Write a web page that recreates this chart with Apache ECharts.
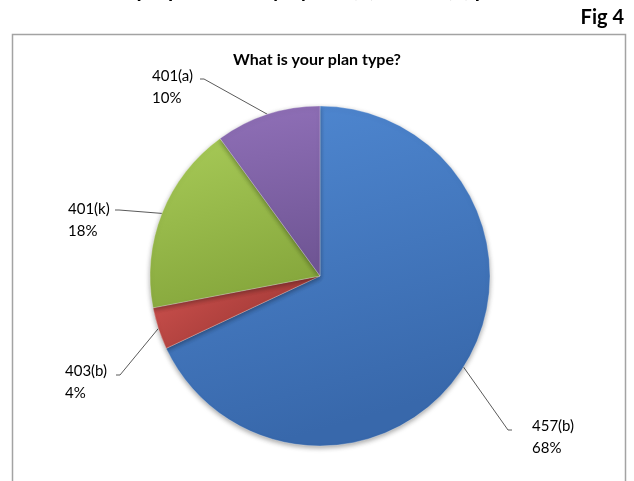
<!DOCTYPE html>
<html>
<head>
<meta charset="utf-8">
<script src="https://cdn.jsdelivr.net/npm/echarts@6/dist/echarts.min.js"></script>
<style>
  html, body { margin: 0; padding: 0; background: #fff; }
  #chart { width: 634px; height: 481px; }
</style>
</head>
<body>
<div id="chart"></div>
<script>
// Plan types and their share of responses (percent)
const planTypes = ['457(b)', '403(b)', '401(k)', '401(a)'];
const planShares = [68, 4, 18, 10];

// Slice colours: [top, bottom] of each slice's shading
const sliceShades = [
  ['#5089d3', '#3868ab'],
  ['#d0534f', '#ac3f3c'],
  ['#a8cb58', '#87a83d'],
  ['#9070b8', '#6f5594']
];

// Label placement: top-left of label block and the elbow/end of its leader line
const labelSpots = [
  { x: 532, y: 415, elbow: [508, 430], end: [512, 430] },
  { x: 65,  y: 360, elbow: [120, 375], end: [116, 375] },
  { x: 68,  y: 198, elbow: [119, 210], end: [115, 210] },
  { x: 152, y: 65,  elbow: [204, 79],  end: [200, 79] }
];

const chart = echarts.init(document.getElementById('chart'), null, { renderer: 'canvas' });

const FONT = 'Lato, "Open Sans", sans-serif';

const option = {
  backgroundColor: '#ffffff',
  animation: false,
  graphic: [
    {
      // page heading running off the top edge
      type: 'text',
      left: -75, top: -20,
      style: {
        text: 'Are members enrolled proportionately by 457(b) vs. 401(k) plans?',
        font: 'bold 21px ' + FONT,
        fill: '#000'
      }
    },
    {
      type: 'text',
      right: 10, top: 8,
      style: { text: 'Fig 4', font: 'bold 20px ' + FONT, fill: '#000' }
    },
    {
      type: 'rect',
      shape: { x: 12.5, y: 34.5, width: 613, height: 460 },
      style: { fill: 'none', stroke: '#a3a3a3', lineWidth: 1.5 }
    }
  ],
  title: {
    text: 'What is your plan type?',
    left: 'center',
    top: 47,
    textStyle: { fontFamily: FONT, fontWeight: 'bold', fontSize: 16, color: '#000' }
  },
  series: [{
    type: 'pie',
    center: [320, 276],
    radius: 170,
    startAngle: 90,
    clockwise: true,
    silent: true,
    data: planTypes.map((name, i) => ({
      name,
      value: planShares[i],
      itemStyle: {
        color: {
          type: 'linear', x: 0, y: 0, x2: 0.3, y2: 1,
          colorStops: [
            { offset: 0, color: sliceShades[i][0] },
            { offset: 1, color: sliceShades[i][1] }
          ]
        }
      }
    })),
    itemStyle: {
      borderColor: 'rgba(255,255,255,0.35)',
      borderWidth: 0.8,
      shadowBlur: 5,
      shadowColor: 'rgba(0,0,0,0.35)',
      shadowOffsetY: 2
    },
    label: {
      show: true,
      formatter: '{b}\n{c}%',
      fontFamily: FONT,
      fontSize: 15,
      lineHeight: 22,
      color: '#000',
      align: 'left'
    },
    labelLine: {
      show: true,
      lineStyle: { color: '#303030', width: 0.8 }
    },
    labelLayout: function (params) {
      const spot = labelSpots[params.dataIndex];
      const start = params.labelLinePoints ? params.labelLinePoints[0] : spot.elbow;
      return {
        x: spot.x,
        y: spot.y,
        align: 'left',
        verticalAlign: 'top',
        labelLinePoints: [start, spot.elbow, spot.end]
      };
    }
  }]
};

chart.setOption(option);
</script>
</body>
</html>
